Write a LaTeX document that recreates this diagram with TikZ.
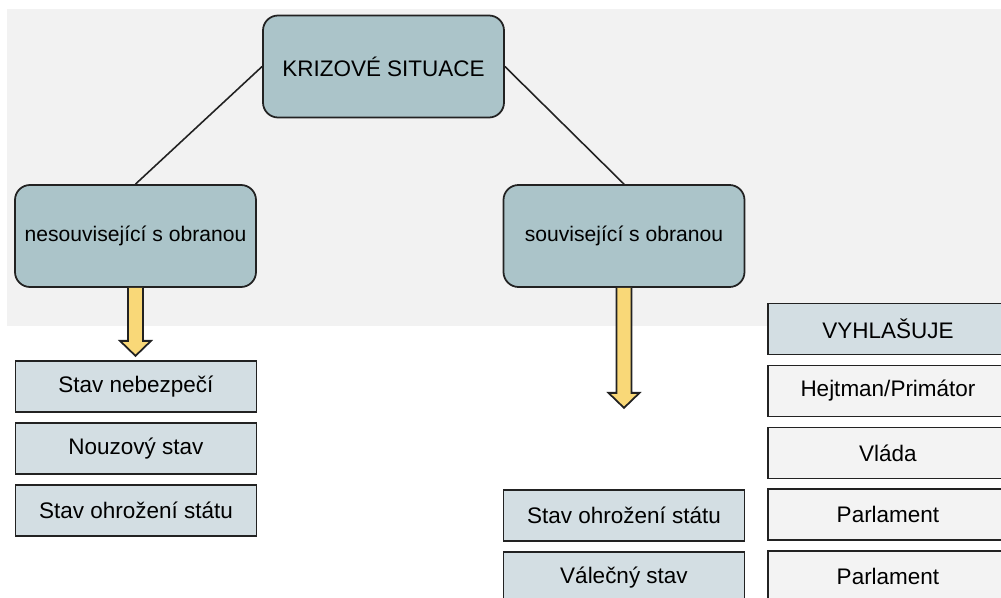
\documentclass[tikz,border=0pt]{standalone}
\usepackage{fontspec}
\setmainfont{Liberation Sans}
\usepackage{xcolor}
\usepackage{tikz}
\usetikzlibrary{positioning, calc, backgrounds}
\definecolor{teal_box}{HTML}{ABC4C9}
\definecolor{light_box}{HTML}{D3DEE3}
\definecolor{grey_box}{HTML}{F3F3F3}
\definecolor{bg_grey}{HTML}{F2F2F2}
\definecolor{arrow_yellow}{HTML}{F9D878}
\definecolor{edge_dark}{HTML}{222222}
\tikzstyle{category} = [rectangle, rounded corners=0.15cm, minimum width=2.41cm, minimum height=1.02cm, inner sep=0pt, text centered, draw=edge_dark, line width=0.5pt, fill=teal_box, font=\fontsize{6}{7.2}\selectfont]
\tikzstyle{state} = [rectangle, minimum width=2.41cm, minimum height=0.51cm, inner sep=0pt, text centered, draw=edge_dark, line width=0.5pt, fill=light_box]
\tikzstyle{authority} = [rectangle, minimum width=2.4cm, minimum height=0.51cm, inner sep=0pt, text centered, draw=edge_dark, line width=0.5pt, fill=grey_box]
\tikzstyle{link} = [line width=0.45pt, draw=edge_dark]
\tikzstyle{blockarrow} = [line width=0.5pt, draw=edge_dark, fill=arrow_yellow]

\begin{document}
\begin{tikzpicture}[node distance=0.092cm, font=\fontsize{6.4}{7.7}\selectfont]
        \useasboundingbox (0,0) rectangle (10.01,-5.98);
        \clip (0,0) rectangle (10.01,-5.98);
        % Grey panel
        \fill [bg_grey] (0.07,-0.09) rectangle (10.1,-3.26);

        % Categories
        \node (crisis) [category, font=\fontsize{6.4}{7.7}\selectfont] at (3.835,-0.665) {KRIZOVÉ SITUACE};
        \node (nondefence) [category] at (1.355,-2.36) {nesouvisející s obranou};
        \node (defence) [category] at (6.24,-2.36) {související s obranou};

        % States, non-defence
        \node (danger) [state] at (1.36,-3.865) {Stav nebezpečí};
        \node (emergency) [state, below=of danger] {Nouzový stav};
        \node (threat_left) [state, below=of emergency] {Stav ohrožení státu};

        % States, defence
        \node (threat_right) [state] at (6.24,-5.155) {Stav ohrožení státu};
        \node (war) [state, below=of threat_right] {Válečný stav};

        % Who declares
        \node (declares) [authority, fill=light_box] at (8.88,-3.29) {VYHLAŠUJE};
        \node (governor) [authority, below=of declares] {Hejtman/Primátor};
        \node (government) [authority, below=of governor] {Vláda};
        \node (parliament_a) [authority, below=of government] {Parlament};
        \node (parliament_b) [authority, below=of parliament_a] {Parlament};

        % Lines
        \draw [link] (crisis.west) -- (nondefence.north);
        \draw [link] (crisis.east) -- (defence.north);

        % Yellow arrows
        \coordinate (left_tip) at ($(nondefence.south)+(0,-0.68)$);
        \coordinate (right_tip) at ($(defence.south)+(0,-1.2)$);
        \draw [blockarrow] ($(nondefence.south)+(-0.075,0)$) -- ($(left_tip)+(-0.075,0.15)$) -- ($(left_tip)+(-0.155,0.15)$) -- (left_tip) -- ($(left_tip)+(0.155,0.15)$) -- ($(left_tip)+(0.075,0.15)$) -- ($(nondefence.south)+(0.075,0)$);
        \draw [blockarrow] ($(defence.south)+(-0.075,0)$) -- ($(right_tip)+(-0.075,0.15)$) -- ($(right_tip)+(-0.155,0.15)$) -- (right_tip) -- ($(right_tip)+(0.155,0.15)$) -- ($(right_tip)+(0.075,0.15)$) -- ($(defence.south)+(0.075,0)$);
      \end{tikzpicture}
\end{document}
